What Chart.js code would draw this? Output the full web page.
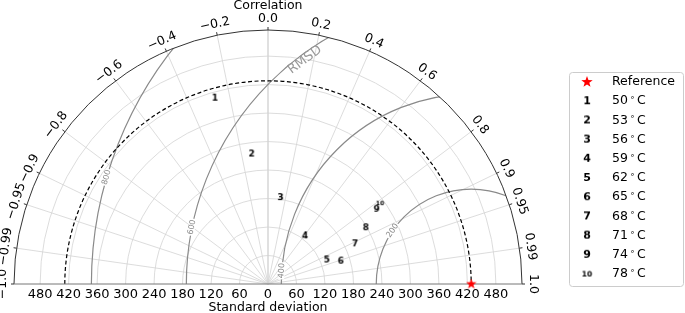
<!DOCTYPE html>
<html>
<head>
<meta charset="utf-8">
<script src="https://cdn.jsdelivr.net/npm/chart.js@4"></script>
<style>
  html, body { margin: 0; padding: 0; background: #fff; }
  canvas { display: block; }
</style>
</head>
<body>
<canvas id="chart" width="685" height="313" style="width:685px;height:313px"></canvas>
<script>
// Taylor diagram: std dev of each run vs the reference, plus correlation
const maxStd = 535;
const refStd = 428;
const stdTicks = [0, 60, 120, 180, 240, 300, 360, 420, 480];
const corrTicks = [-1.0, -0.99, -0.95, -0.9, -0.8, -0.6, -0.4, -0.2, 0.0, 0.2, 0.4, 0.6, 0.8, 0.9, 0.95, 0.99, 1.0];
const corrTickLabels = ['\u22121.0', '\u22120.99', '\u22120.95', '\u22120.9', '\u22120.8', '\u22120.6', '\u22120.4', '\u22120.2', '0.0',
                        '0.2', '0.4', '0.6', '0.8', '0.9', '0.95', '0.99', '1.0'];
const rmsdLevels = [200, 400, 600, 800];

const markerLabels = ['1', '2', '3', '4', '5', '6', '7', '8', '9', '10'];
const tempLabels = ['50°C', '53°C', '56°C', '59°C', '62°C', '65°C', '68°C', '71°C', '74°C', '78°C'];
const stdDevs = [407, 276, 184, 128, 134, 161, 202, 238, 278, 291];
const correlations = [-0.274, -0.124, 0.145, 0.61, 0.926, 0.954, 0.908, 0.867, 0.824, 0.811];

const FONT = '"DejaVu Sans", "Liberation Sans", sans-serif';

function makeStar(size) {
    const c = document.createElement('canvas');
    c.width = size; c.height = size;
    const g = c.getContext('2d');
    const ro = size / 2, ri = ro * 0.4;
    g.beginPath();
    for (let k = 0; k < 10; k++) {
        const r = k % 2 ? ri : ro;
        const a = -Math.PI / 2 + k * Math.PI / 5;
        g.lineTo(size / 2 + r * Math.cos(a), size / 2 + r * Math.sin(a));
    }
    g.closePath();
    g.fillStyle = '#ff0000';
    g.fill();
    return c;
}

function makeDigit(txt, size) {
    const c = document.createElement('canvas');
    let g = c.getContext('2d');
    g.font = `bold ${size}px ${FONT}`;
    const w = Math.ceil(g.measureText(txt).width) + 2;
    c.width = w; c.height = Math.ceil(size * 1.2) + 2;
    g = c.getContext('2d');
    g.font = `bold ${size}px ${FONT}`;
    g.fillStyle = '#000';
    g.textAlign = 'center';
    g.textBaseline = 'middle';
    g.fillText(txt, w / 2, c.height / 2 + 0.5);
    return c;
}

const plotMarkers = markerLabels.map(m => makeDigit(m, m.length > 1 ? 6 : 9));
const legendMarkers = markerLabels.map(m => makeDigit(m, m.length > 1 ? 7.5 : 11));
const starPlot = makeStar(11);
const starLegend = makeStar(12);

const taylorPlugin = {
    id: 'taylor',
    beforeDatasetsDraw(chart) {
        const { ctx, scales: { x, y } } = chart;
        const cx = x.getPixelForValue(0), cy = y.getPixelForValue(0);
        const unit = x.getPixelForValue(1) - cx;
        const R = maxStd * unit;
        ctx.save();

        // std dev circles
        ctx.strokeStyle = '#d3d3d3';
        ctx.lineWidth = 0.8;
        stdTicks.forEach(s => {
            if (s === 0) return;
            ctx.beginPath();
            ctx.arc(cx, cy, s * unit, Math.PI, 2 * Math.PI);
            ctx.stroke();
        });
        // correlation spokes
        corrTicks.forEach(c => {
            if (Math.abs(c) === 1) return;
            const t = Math.acos(c);
            ctx.lineWidth = c === 0 ? 1.4 : 0.8;
            ctx.beginPath();
            ctx.moveTo(cx, cy);
            ctx.lineTo(cx + R * Math.cos(t), cy - R * Math.sin(t));
            ctx.stroke();
        });

        // RMSD contours, clipped to the half disc
        ctx.save();
        ctx.beginPath();
        ctx.arc(cx, cy, R, Math.PI, 2 * Math.PI);
        ctx.closePath();
        ctx.clip();
        const rx = x.getPixelForValue(refStd);
        ctx.strokeStyle = '#8a8a8a';
        ctx.lineWidth = 1.2;
        rmsdLevels.forEach(l => {
            ctx.beginPath();
            ctx.arc(rx, cy, l * unit, 0, 2 * Math.PI);
            ctx.stroke();
        });
        ctx.restore();

        // contour labels
        const labelPhi = { 200: 145.8, 400: 176, 600: 168.5, 800: 163.7 };
        ctx.font = `8px ${FONT}`;
        ctx.textAlign = 'center';
        ctx.textBaseline = 'middle';
        rmsdLevels.forEach(l => {
            const p = labelPhi[l] * Math.PI / 180;
            const px = x.getPixelForValue(refStd + l * Math.cos(p));
            const py = y.getPixelForValue(l * Math.sin(p));
            ctx.save();
            ctx.translate(px, py);
            ctx.rotate(-(p - Math.PI / 2));
            const w = ctx.measureText(String(l)).width;
            ctx.fillStyle = '#fff';
            ctx.fillRect(-w / 2 - 1, -3, w + 2, 6);
            ctx.fillStyle = '#8a8a8a';
            ctx.fillText(String(l), 0, 0);
            ctx.restore();
        });
        // RMSD caption
        ctx.save();
        ctx.translate(x.getPixelForValue(78), y.getPixelForValue(472));
        ctx.rotate(-36.6 * Math.PI / 180);
        ctx.font = `13px ${FONT}`;
        ctx.fillStyle = '#999';
        ctx.fillText('RMSD', 0, 0);
        ctx.restore();

        // reference std arc (dashed)
        ctx.strokeStyle = '#000';
        ctx.lineWidth = 1.2;
        ctx.setLineDash([4, 2.5]);
        ctx.beginPath();
        ctx.arc(cx, cy, refStd * unit, Math.PI, 2 * Math.PI);
        ctx.stroke();
        ctx.setLineDash([]);

        // outer arc and baseline
        ctx.strokeStyle = '#333';
        ctx.lineWidth = 1;
        ctx.beginPath();
        ctx.arc(cx, cy, R, Math.PI, 2 * Math.PI);
        ctx.stroke();
        ctx.strokeStyle = '#777';
        ctx.beginPath();
        ctx.moveTo(cx - R, cy);
        ctx.lineTo(cx + R, cy);
        ctx.stroke();

        // correlation ticks + labels
        ctx.fillStyle = '#000';
        ctx.font = `12.5px ${FONT}`;
        corrTicks.forEach((c, i) => {
            const t = Math.acos(c);
            ctx.strokeStyle = '#333';
            ctx.beginPath();
            ctx.moveTo(cx + R * Math.cos(t), cy - R * Math.sin(t));
            ctx.lineTo(cx + (R + 3) * Math.cos(t), cy - (R + 3) * Math.sin(t));
            ctx.stroke();
            const lr = R + 11;
            ctx.save();
            ctx.translate(cx + lr * Math.cos(t), cy - lr * Math.sin(t));
            ctx.rotate(Math.PI / 2 - t);
            ctx.fillText(corrTickLabels[i], 0, 0);
            ctx.restore();
        });

        // std tick labels along the baseline
        ctx.font = `13px ${FONT}`;
        stdTicks.forEach(s => {
            ctx.fillText(String(s), x.getPixelForValue(s), cy + 11);
            if (s) ctx.fillText(String(s), x.getPixelForValue(-s), cy + 11);
        });

        // axis titles
        ctx.font = `12.5px ${FONT}`;
        ctx.fillText('Correlation', cx, 6);
        ctx.fillText('Standard deviation', cx, 308);
        ctx.restore();
    },
    afterDraw(chart) {
        const { ctx } = chart;
        ctx.save();
        // legend box
        const bx = 569.5, by = 72.5, bw = 114, bh = 214, r = 3;
        ctx.beginPath();
        ctx.roundRect(bx, by, bw, bh, r);
        ctx.fillStyle = 'rgba(255,255,255,0.8)';
        ctx.fill();
        ctx.strokeStyle = '#cccccc';
        ctx.lineWidth = 1;
        ctx.stroke();

        const mx = 587, tx = 612, y0 = 82, dy = 19.2;
        ctx.drawImage(starLegend, mx - starLegend.width / 2, y0 - starLegend.height / 2);
        ctx.fillStyle = '#000';
        ctx.textBaseline = 'middle';
        ctx.textAlign = 'left';
        ctx.font = `12.5px ${FONT}`;
        ctx.fillText('Reference', tx, y0);
        tempLabels.forEach((lab, i) => {
            const yy = y0 + dy * (i + 1);
            const img = legendMarkers[i];
            ctx.drawImage(img, mx - img.width / 2, yy - img.height / 2);
            const [num, unitTxt] = lab.split('°');
            ctx.font = `12.5px ${FONT}`;
            ctx.fillText(num, tx, yy);
            let xx = tx + ctx.measureText(num).width + 2;
            ctx.font = `8px ${FONT}`;
            ctx.fillText('\u2218', xx, yy - 3);
            xx += ctx.measureText('\u2218').width + 2;
            ctx.font = `12.5px ${FONT}`;
            ctx.fillText(unitTxt, xx, yy);
        });
        ctx.restore();
    }
};

const datasets = [{
    label: 'Reference',
    data: [{ x: refStd, y: 0 }],
    pointStyle: starPlot,
    clip: false
}].concat(tempLabels.map((lab, i) => ({
    label: lab,
    data: [{
        x: stdDevs[i] * correlations[i],
        y: stdDevs[i] * Math.sqrt(1 - correlations[i] * correlations[i])
    }],
    pointStyle: plotMarkers[i],
    clip: false
})));

new Chart(document.getElementById('chart').getContext('2d'), {
    type: 'scatter',
    data: { datasets },
    options: {
        responsive: false,
        devicePixelRatio: 1,
        animation: false,
        layout: { padding: { left: 14, right: 163, top: 30, bottom: 29 } },
        scales: {
            x: { type: 'linear', min: -maxStd, max: maxStd, display: false },
            y: { type: 'linear', min: 0, max: maxStd, display: false }
        },
        plugins: {
            legend: { display: false },
            tooltip: { enabled: false }
        }
    },
    plugins: [taylorPlugin]
});
</script>
</body>
</html>
